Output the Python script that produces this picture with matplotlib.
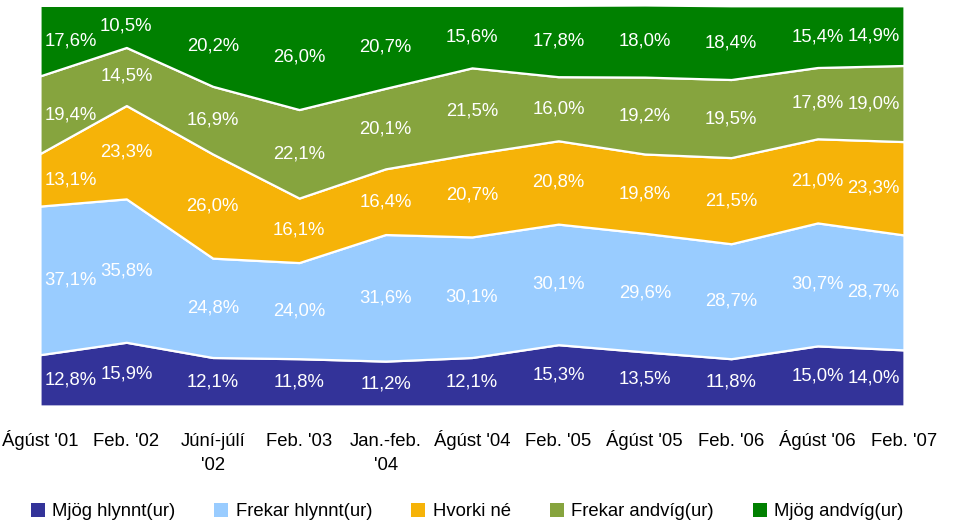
import matplotlib
matplotlib.use('Agg')
import matplotlib.pyplot as plt
from matplotlib.patches import Patch
import numpy as np

plt.rcParams['font.family'] = ['Liberation Sans', 'DejaVu Sans']

# data
periods = ["Ágúst '01", "Feb. '02", "Júní-júlí\n'02", "Feb. '03", "Jan.-feb.\n'04",
           "Ágúst '04", "Feb. '05", "Ágúst '05", "Feb. '06", "Ágúst '06", "Feb. '07"]
series_names = ['Mjög hlynnt(ur)', 'Frekar hlynnt(ur)', 'Hvorki né',
                'Frekar andvíg(ur)', 'Mjög andvíg(ur)']
mjog_hlynnt = [12.8, 15.9, 12.1, 11.8, 11.2, 12.1, 15.3, 13.5, 11.8, 15.0, 14.0]
frekar_hlynnt = [37.1, 35.8, 24.8, 24.0, 31.6, 30.1, 30.1, 29.6, 28.7, 30.7, 28.7]
hvorki = [13.1, 23.3, 26.0, 16.1, 16.4, 20.7, 20.8, 19.8, 21.5, 21.0, 23.3]
frekar_andvig = [19.4, 14.5, 16.9, 22.1, 20.1, 21.5, 16.0, 19.2, 19.5, 17.8, 19.0]
mjog_andvig = [17.6, 10.5, 20.2, 26.0, 20.7, 15.6, 17.8, 18.0, 18.4, 15.4, 14.9]
colors = ['#333399', '#99ccff', '#f6b308', '#86a43e', '#008000']

values = np.array([mjog_hlynnt, frekar_hlynnt, hvorki, frekar_andvig, mjog_andvig])
x = np.arange(len(periods))
fs = 13.3

fig = plt.figure(figsize=(9.56, 5.25), dpi=100)
ax = fig.add_axes([0.0418, 0.2267, 0.9038, 0.7638])

ax.stackplot(x, values, colors=colors, edgecolor='white', linewidth=1.6)
ax.set_xlim(0, len(periods) - 1)
ax.set_ylim(0, values.sum(axis=0).max())

# labels in the middle of each band
bottoms = np.vstack([np.zeros(len(x)), np.cumsum(values, axis=0)[:-1]])
for s in range(values.shape[0]):
    for i in range(len(x)):
        mid = bottoms[s, i] + values[s, i] / 2
        txt = ('%.1f%%' % values[s, i]).replace('.', ',')
        if i == 0:
            ax.text(0.05, mid, txt, ha='left', va='center', color='white', fontsize=fs)
        elif i == len(x) - 1:
            ax.text(len(x) - 1.05, mid, txt, ha='right', va='center', color='white', fontsize=fs)
        else:
            ax.text(i, mid, txt, ha='center', va='center', color='white', fontsize=fs)

# category labels, each line on a common baseline
ax.set_xticks([])
ax.set_yticks([])
trans = ax.get_xaxis_transform()
for i, lab in enumerate(periods):
    for j, line in enumerate(lab.split('\n')):
        ax.text(i, -0.099 - j * 0.06, line, ha='center', va='baseline',
                fontsize=fs, transform=trans, clip_on=False)
for sp in ax.spines.values():
    sp.set_visible(False)

handles = [Patch(facecolor=c, edgecolor='none') for c in colors]
fig.legend(handles, series_names, loc='center', bbox_to_anchor=(0.4885, 0.025), ncol=5,
           frameon=False, fontsize=fs, handlelength=0.75, handleheight=0.75,
           handletextpad=0.4, columnspacing=2.12)

fig.savefig('out.png', dpi=100)
